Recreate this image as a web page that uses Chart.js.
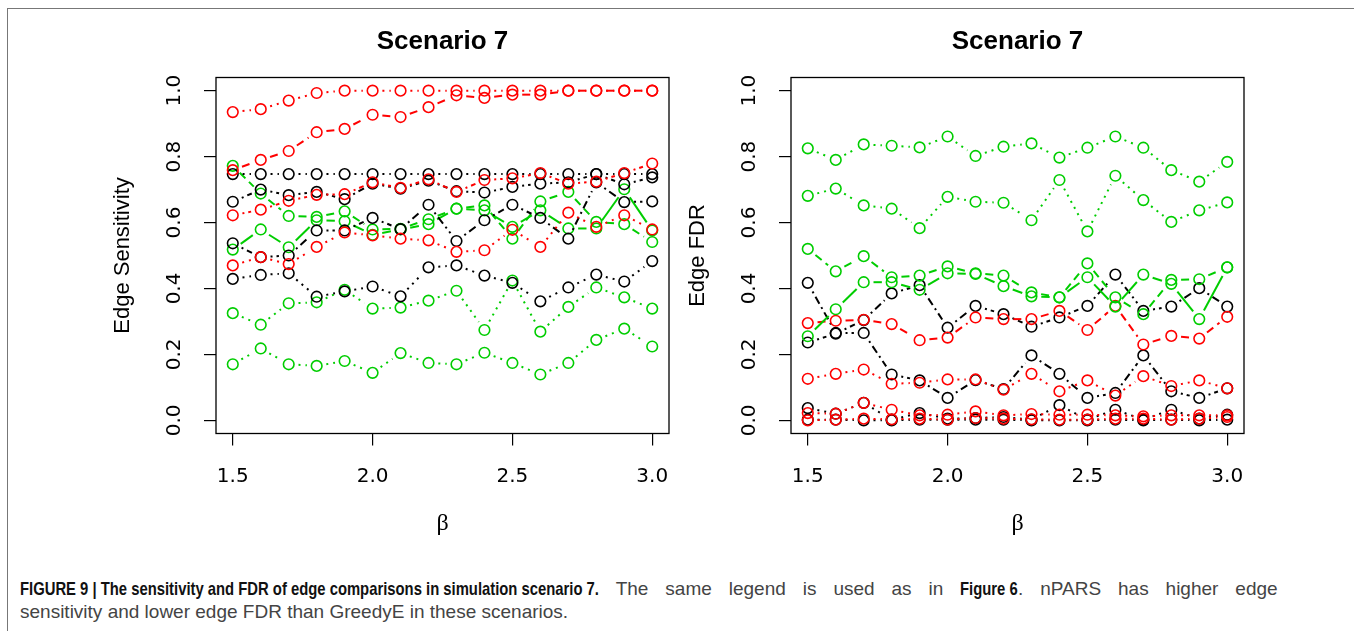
<!DOCTYPE html>
<html>
<head>
<meta charset="utf-8">
<script src="https://cdn.jsdelivr.net/npm/chart.js@4.4.1/dist/chart.umd.min.js"></script>
<style>
html,body{margin:0;padding:0;background:#fff;width:1354px;height:631px;overflow:hidden;}
#frame{position:absolute;left:7px;top:8px;width:1400px;height:700px;border-left:1px solid #777;border-top:1px solid #777;}
.panel{position:absolute;top:0;width:677px;height:560px;}
.capline{position:absolute;left:20px;font-family:'Liberation Sans',Arial,sans-serif;font-size:19px;line-height:23px;color:#444;white-space:nowrap;}
.capinner{display:inline-block;}
.bc{display:inline-block;font-weight:bold;color:#111;word-spacing:0px;transform:scaleX(0.78);transform-origin:0 50%;}
</style>
</head>
<body>
<div id="frame"></div>
<div class="panel" style="left:0px"><canvas id="c1" width="677" height="560"></canvas></div>
<div class="panel" style="left:575px"><canvas id="c2" width="677" height="560"></canvas></div>
<div class="capline" style="top:577px"><span class="capinner" id="l1"><span class="bc">FIGURE 9 | The sensitivity and FDR of edge comparisons in simulation scenario 7.</span> The same legend is used as in <span class="bc">Figure 6</span>. nPARS has higher edge</span></div>
<div class="capline" style="top:600px"><span class="capinner">sensitivity and lower edge FDR than GreedyE in these scenarios.</span></div>
<script>
// ---------- data ----------
const betaValues = [1.5,1.6,1.7,1.8,1.9,2.0,2.1,2.2,2.3,2.4,2.5,2.6,2.7,2.8,2.9,3.0];
const xTickValues = [1.5,2.0,2.5,3.0];
const yTickValues = [0.0,0.2,0.4,0.6,0.8,1.0];

// Edge sensitivity
const sensRed1   = [0.935,0.944,0.970,0.993,1.000,1.000,1.000,1.000,1.000,1.000,1.000,1.000,1.000,1.000,1.000,1.000];
const sensRed2   = [0.759,0.790,0.817,0.874,0.884,0.927,0.920,0.950,0.986,0.978,0.988,0.988,1.000,1.000,1.000,1.000];
const sensRed3   = [0.622,0.639,0.666,0.684,0.686,0.722,0.705,0.731,0.693,0.729,0.734,0.750,0.718,0.724,0.750,0.779];
const sensRed4   = [0.470,0.495,0.474,0.526,0.570,0.561,0.551,0.546,0.511,0.516,0.578,0.526,0.630,0.587,0.622,0.579];
const sensBlack1 = [0.747,0.747,0.747,0.747,0.747,0.747,0.747,0.747,0.747,0.747,0.747,0.747,0.747,0.747,0.747,0.747];
const sensBlack2 = [0.663,0.700,0.683,0.693,0.671,0.718,0.703,0.727,0.695,0.691,0.708,0.718,0.722,0.747,0.716,0.737];
const sensBlack3 = [0.537,0.495,0.500,0.576,0.576,0.614,0.580,0.654,0.544,0.607,0.654,0.614,0.551,0.722,0.662,0.664];
const sensBlack4 = [0.429,0.441,0.446,0.375,0.391,0.406,0.376,0.464,0.470,0.439,0.417,0.361,0.403,0.442,0.421,0.483];
const sensGreen1 = [0.772,0.688,0.620,0.617,0.634,0.579,0.581,0.610,0.642,0.652,0.551,0.664,0.693,0.602,0.595,0.541];
const sensGreen2 = [0.518,0.579,0.525,0.607,0.604,0.563,0.579,0.595,0.642,0.637,0.587,0.637,0.582,0.582,0.701,0.576];
const sensGreen3 = [0.325,0.290,0.355,0.358,0.396,0.339,0.342,0.363,0.393,0.274,0.424,0.269,0.344,0.403,0.373,0.339];
const sensGreen4 = [0.170,0.218,0.170,0.165,0.180,0.144,0.204,0.174,0.170,0.205,0.174,0.139,0.174,0.244,0.278,0.224];

// Edge FDR
const fdrGreen1 = [0.825,0.790,0.837,0.833,0.828,0.861,0.802,0.830,0.840,0.797,0.827,0.861,0.827,0.759,0.724,0.784];
const fdrGreen2 = [0.681,0.703,0.652,0.642,0.583,0.678,0.663,0.660,0.607,0.729,0.573,0.742,0.668,0.602,0.637,0.661];
const fdrGreen3 = [0.520,0.452,0.498,0.434,0.439,0.467,0.446,0.439,0.388,0.373,0.476,0.373,0.322,0.426,0.428,0.464];
const fdrGreen4 = [0.255,0.337,0.419,0.419,0.396,0.446,0.444,0.407,0.376,0.373,0.434,0.345,0.442,0.414,0.307,0.464];
const fdrRed1   = [0.295,0.302,0.305,0.292,0.243,0.251,0.312,0.307,0.307,0.332,0.274,0.347,0.230,0.256,0.248,0.314];
const fdrRed2   = [0.126,0.141,0.154,0.111,0.114,0.124,0.124,0.093,0.141,0.088,0.121,0.075,0.134,0.104,0.121,0.097];
const fdrRed3   = [0.022,0.020,0.053,0.032,0.015,0.017,0.027,0.015,0.019,0.017,0.017,0.015,0.012,0.015,0.015,0.015];
const fdrRed4   = [0.000,0.002,0.005,0.003,0.005,0.002,0.007,0.005,0.003,0.002,0.002,0.005,0.005,0.002,0.005,0.010];
const fdrBlack1 = [0.417,0.265,0.265,0.139,0.121,0.068,0.122,0.095,0.197,0.141,0.068,0.083,0.197,0.088,0.068,0.097];
const fdrBlack2 = [0.236,0.263,0.304,0.385,0.410,0.281,0.347,0.322,0.284,0.312,0.347,0.442,0.332,0.345,0.401,0.345];
const fdrBlack3 = [0.037,0.020,0.053,0.002,0.022,0.005,0.007,0.010,0.002,0.046,0.002,0.032,0.002,0.032,0.005,0.017];
const fdrBlack4 = [0.002,0.002,0.000,0.000,0.002,0.002,0.002,0.002,0.000,0.000,0.000,0.002,0.000,0.002,0.000,0.002];

// ---------- styles ----------
const RED = '#ff0000', BLACK = '#000000', GREEN = '#00cd00';
const DOT = [2,5], DASH = [8,5], DOTDASH = [2,4,8,4], SOLID = [1000,0];
const FONT = "'Liberation Sans', Arial, Helvetica, sans-serif";
const TICKFONT = "'DejaVu Sans', 'Liberation Sans', sans-serif";
const POINT_R = 5.3;
const GAP = POINT_R + 4.5;

// R type="b": the line leaves a gap round each point; build that gap into the dash array of each segment
function gappedDash(pattern) {
  return ctx => {
    const L = Math.hypot(ctx.p1.x - ctx.p0.x, ctx.p1.y - ctx.p0.y);
    const visible = L - 2 * GAP;
    if (visible <= 0) return [0, L + 10];
    const arr = [0, GAP];
    let used = 0, k = 0;
    while (used < visible) {
      const on = Math.min(pattern[k % pattern.length], visible - used);
      arr.push(on);
      used += on;
      const off = pattern[(k + 1) % pattern.length];
      if (used + off >= visible) { arr.push(L + 10); break; }
      arr.push(off);
      used += off;
      k += 2;
    }
    if (arr.length % 2) arr.push(L + 10);
    return arr;
  };
}

function series(values, color, dash) {
  return {
    data: values.map((v, i) => ({x: betaValues[i], y: v})),
    xAxisID: 'x', yAxisID: 'y',
    borderColor: color, borderWidth: 2,
    segment: {
      borderDash: gappedDash(dash),
      borderDashOffset: ctx => ctx.p0DataIndex * 0.0001
    },
    pointStyle: 'circle', pointRadius: POINT_R, pointBorderWidth: 1.6,
    pointBorderColor: color, pointBackgroundColor: 'rgba(0,0,0,0)',
    pointHoverRadius: POINT_R, tension: 0, fill: false, clip: false
  };
}

const boxPlugin = {
  id: 'plotBox',
  afterDraw(chart) {
    const {ctx, chartArea: a} = chart;
    ctx.save();
    ctx.strokeStyle = '#000';
    ctx.lineWidth = 1.3;
    ctx.setLineDash([]);
    ctx.strokeRect(a.left, a.top, a.right - a.left, a.bottom - a.top);
    ctx.restore();
  }
};

function makeChart(id, datasets, yTitle) {
  return new Chart(document.getElementById(id), {
    type: 'line',
    data: {datasets},
    options: {
      responsive: false, animation: false, events: [],
      layout: {padding: {left: 0, right: 8, top: 0, bottom: 0}},
      plugins: {legend: {display: false}, tooltip: {enabled: false}, title: {display: false}},
      scales: {
        x: {
          type: 'linear', position: 'bottom', min: 1.44, max: 3.06,
          afterBuildTicks: s => { s.ticks = xTickValues.map(v => ({value: v})); },
          afterFit: s => { s.height = 126.5; s.paddingLeft = 0; s.paddingRight = 0; },
          grid: {display: true, drawOnChartArea: false, drawTicks: true, tickLength: 12, color: '#000', lineWidth: 1.2},
          border: {display: false},
          ticks: {color: '#000', font: {family: TICKFONT, size: 20}, padding: 19, autoSkip: false, maxRotation: 0,
                  callback: v => Number(v).toFixed(1)},
          title: {display: true, text: 'β', color: '#000', font: {family: "'Liberation Serif', 'DejaVu Serif', serif", size: 24},
                  padding: {top: 0, bottom: 22}}
        },
        head: {
          type: 'linear', position: 'top', min: 0, max: 1, display: true,
          grid: {display: false}, border: {display: false}, ticks: {display: false},
          afterFit: s => { s.height = 77.5; s.paddingLeft = 0; s.paddingRight = 0; },
          title: {display: true, text: 'Scenario 7', color: '#000', font: {family: FONT, size: 26, weight: 'bold'},
                  padding: {top: 26, bottom: 0}}
        },
        y: {
          type: 'linear', position: 'left', min: -0.04, max: 1.04,
          afterBuildTicks: s => { s.ticks = yTickValues.map(v => ({value: v})); },
          afterFit: s => { s.width = 216; s.paddingTop = 0; s.paddingBottom = 0; },
          grid: {display: true, drawOnChartArea: false, drawTicks: true, tickLength: 12, color: '#000', lineWidth: 1.2},
          border: {display: false},
          ticks: {color: '#000', font: {family: TICKFONT, size: 20}, padding: 13, autoSkip: false,
                  minRotation: 90, maxRotation: 90, crossAlign: 'center',
                  callback: v => Number(v).toFixed(1)},
          title: {display: true, text: yTitle, color: '#000', font: {family: FONT, size: 22},
                  padding: {top: 110, bottom: 0}}
        }
      }
    },
    plugins: [boxPlugin]
  });
}

makeChart('c1', [
  series(sensRed1, RED, DOT), series(sensRed2, RED, DASH), series(sensRed3, RED, DOTDASH), series(sensRed4, RED, DOT),
  series(sensBlack1, BLACK, DOT), series(sensBlack2, BLACK, DOTDASH), series(sensBlack3, BLACK, DOTDASH), series(sensBlack4, BLACK, DOT),
  series(sensGreen1, GREEN, DASH), series(sensGreen2, GREEN, SOLID), series(sensGreen3, GREEN, DOT), series(sensGreen4, GREEN, DOT)
], 'Edge Sensitivity');

makeChart('c2', [
  series(fdrGreen1, GREEN, DOT), series(fdrGreen2, GREEN, DOT), series(fdrGreen3, GREEN, DASH), series(fdrGreen4, GREEN, SOLID),
  series(fdrRed1, RED, DASH), series(fdrRed2, RED, DOT), series(fdrRed3, RED, DOT), series(fdrRed4, RED, DOT),
  series(fdrBlack1, BLACK, DOTDASH), series(fdrBlack2, BLACK, DOTDASH), series(fdrBlack3, BLACK, DOT), series(fdrBlack4, BLACK, DOT)
], 'Edge FDR');

// ---------- caption layout: condensed bold, justified first line ----------
(function () {
  const line1 = document.getElementById('l1');
  const bolds = Array.from(line1.querySelectorAll('.bc'));
  const S = 0.78;
  function fix() {
    bolds.forEach(b => { b.style.marginRight = '0px'; });
    bolds.forEach(b => { b.style.marginRight = (-(b.offsetWidth * (1 - S))) + 'px'; });
    return line1.offsetWidth;
  }
  line1.style.wordSpacing = '0px';
  const w0 = fix();
  line1.style.wordSpacing = '10px';
  const w1 = fix();
  const ws = (w1 > w0) ? 10 * (1258 - w0) / (w1 - w0) : 0;
  line1.style.wordSpacing = ws + 'px';
  fix();
})();
</script>
</body>
</html>
